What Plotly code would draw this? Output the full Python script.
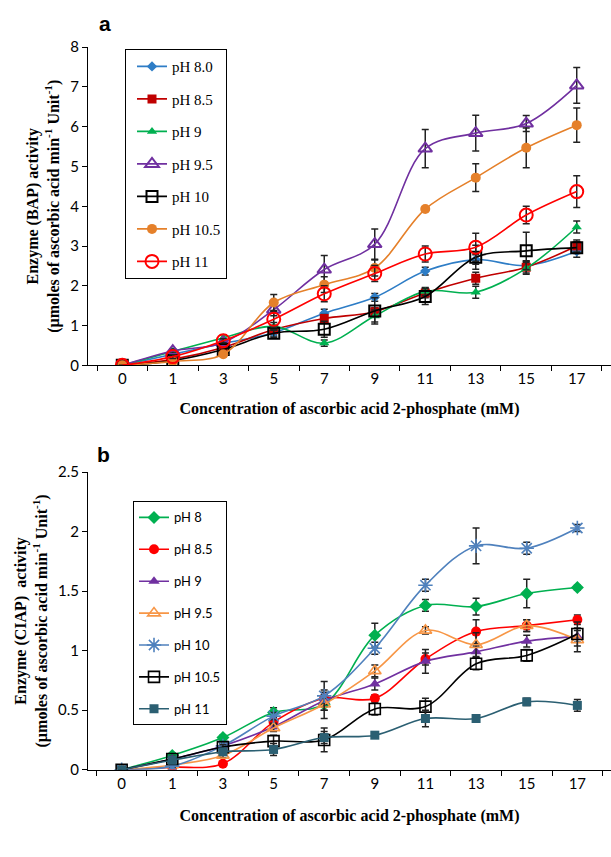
import plotly.graph_objects as go

# ---------------- data ----------------
conc = ["0", "1", "3", "5", "7", "9", "11", "13", "15", "17"]

# Panel a: BAP
a_names = ["pH 8.0", "pH 8.5", "pH 9", "pH 9.5", "pH 10", "pH 10.5", "pH 11"]
a_ph80 = [0, 0.28, 0.55, 0.82, 1.31, 1.71, 2.37, 2.66, 2.51, 2.87]
a_ph85 = [0, 0.15, 0.45, 0.90, 1.18, 1.35, 1.82, 2.19, 2.47, 3.00]
a_ph90 = [0, 0.35, 0.69, 0.98, 0.56, 1.24, 1.86, 1.84, 2.44, 3.48]
a_ph95 = [0, 0.36, 0.57, 1.40, 2.41, 3.05, 5.45, 5.84, 6.08, 7.04]
a_ph100 = [0, 0.12, 0.40, 0.81, 0.91, 1.37, 1.73, 2.72, 2.88, 2.96]
a_ph105 = [0, 0.10, 0.28, 1.58, 2.03, 2.45, 3.93, 4.72, 5.47, 6.04]
a_ph110 = [0, 0.22, 0.62, 1.16, 1.80, 2.31, 2.80, 2.97, 3.78, 4.37]

a_err80 = [0, 0.03, 0.05, 0.08, 0.10, 0.10, 0.10, 0.12, 0.12, 0.15]
a_err85 = [0, 0.05, 0.05, 0.10, 0.10, 0.10, 0.12, 0.15, 0.15, 0.15]
a_err90 = [0, 0.05, 0.08, 0.10, 0.08, 0.15, 0.10, 0.15, 0.15, 0.15]
a_err95 = [0, 0.05, 0.05, 0.15, 0.35, 0.38, 0.48, 0.45, 0.20, 0.45]
a_err100 = [0, 0.05, 0.05, 0.10, 0.20, 0.33, 0.20, 0.30, 0.47, 0.15]
a_err105 = [0, 0.03, 0.05, 0.20, 0.20, 0.20, 0.05, 0.35, 0.50, 0.43]
a_err110 = [0, 0.05, 0.05, 0.20, 0.20, 0.20, 0.20, 0.35, 0.22, 0.40]

# Panel b: CIAP
b_names = ["pH 8", "pH 8.5", "pH 9", "pH 9.5", "pH 10", "pH 10.5", "pH 11"]
b_ph80 = [0, 0.12, 0.27, 0.48, 0.55, 1.13, 1.38, 1.37, 1.48, 1.53]
b_ph85 = [0, 0.02, 0.05, 0.40, 0.60, 0.60, 0.93, 1.16, 1.21, 1.26]
b_ph90 = [0, 0.09, 0.20, 0.36, 0.58, 0.72, 0.91, 0.99, 1.08, 1.12]
b_ph95 = [0, 0.04, 0.12, 0.35, 0.55, 0.83, 1.17, 1.05, 1.21, 1.09]
b_ph100 = [0, 0.03, 0.20, 0.45, 0.62, 1.02, 1.55, 1.88, 1.86, 2.03]
b_ph105 = [0, 0.09, 0.19, 0.24, 0.25, 0.51, 0.53, 0.89, 0.96, 1.14]
b_ph110 = [0, 0.08, 0.15, 0.17, 0.27, 0.29, 0.43, 0.43, 0.57, 0.54]

b_err80 = [0, 0.02, 0.02, 0.04, 0.12, 0.10, 0.05, 0.07, 0.12, 0.02]
b_err85 = [0, 0.01, 0.01, 0.03, 0.05, 0.03, 0.05, 0.10, 0.05, 0.04]
b_err90 = [0, 0.02, 0.02, 0.03, 0.05, 0.05, 0.10, 0.05, 0.05, 0.05]
b_err95 = [0, 0.01, 0.02, 0.03, 0.05, 0.05, 0.03, 0.10, 0.05, 0.10]
b_err100 = [0, 0.01, 0.02, 0.03, 0.12, 0.05, 0.05, 0.15, 0.05, 0.03]
b_err105 = [0, 0.02, 0.02, 0.05, 0.10, 0.05, 0.07, 0.05, 0.05, 0.10]
b_err110 = [0, 0.02, 0.02, 0.05, 0.05, 0.02, 0.07, 0.02, 0.03, 0.05]

# ---------------- styles ----------------
a_series = [a_ph80, a_ph85, a_ph90, a_ph95, a_ph100, a_ph105, a_ph110]
a_errs = [a_err80, a_err85, a_err90, a_err95, a_err100, a_err105, a_err110]
a_line = ["#2E7DC6", "#C00000", "#00B050", "#7030A0", "#000000", "#E5802A", "#FF0000"]
a_sym = ["diamond", "square", "triangle-up", "triangle-up-open", "square-open", "circle", "circle-open"]
a_size = [8, 9, 9, 12, 11, 10, 13]

b_series = [b_ph80, b_ph85, b_ph90, b_ph95, b_ph100, b_ph105, b_ph110]
b_errs = [b_err80, b_err85, b_err90, b_err95, b_err100, b_err105, b_err110]
b_line = ["#00B050", "#FF0000", "#7030A0", "#F79646", "#4F81BD", "#000000", "#2B5F72"]
b_sym = ["diamond", "circle", "triangle-up", "triangle-up-open", "asterisk-open", "square-open", "square"]
b_size = [10, 10, 10, 11, 12, 11, 9]

fig = go.Figure()

for i, (name, ys, es) in enumerate(zip(a_names, a_series, a_errs)):
    fig.add_trace(go.Scatter(
        x=conc, y=ys, name=name, mode="lines+markers",
        line=dict(color=a_line[i], width=1.6, shape="spline", smoothing=1.0),
        marker=dict(symbol=a_sym[i], size=a_size[i], color=a_line[i],
                    line=dict(color=a_line[i], width=2 if "open" in a_sym[i] else 0)),
        error_y=dict(type="data", array=es, visible=True, color="#222222", thickness=1.5, width=3.5),
        xaxis="x", yaxis="y", legend="legend", legendgroup="a" + str(i),
    ))

for i, (name, ys, es) in enumerate(zip(b_names, b_series, b_errs)):
    fig.add_trace(go.Scatter(
        x=conc, y=ys, name=name, mode="lines+markers",
        line=dict(color=b_line[i], width=1.6, shape="spline", smoothing=1.0),
        marker=dict(symbol=b_sym[i], size=b_size[i], color=b_line[i],
                    line=dict(color=b_line[i], width=1.6 if "open" in b_sym[i] else 0)),
        error_y=dict(type="data", array=es, visible=True, color="#222222", thickness=1.5, width=3.5),
        xaxis="x2", yaxis="y2", legend="legend2", legendgroup="b" + str(i),
    ))

H = 857.0
def py(px):
    return (H - px) / H

tickfont = dict(family="Lato, Open Sans, sans-serif", size=15, color="#000")
titlefont = dict(family="Liberation Serif, Times New Roman, serif", size=16, color="#000")

axis_common = dict(showline=True, linecolor="#000", linewidth=1, showgrid=False,
                   zeroline=False, ticks="outside", ticklen=5, tickcolor="#000",
                   tickfont=tickfont)

fig.update_layout(
    width=611, height=857,
    margin=dict(l=88, r=0, t=0, b=0),
    plot_bgcolor="white", paper_bgcolor="white",
    xaxis=dict(domain=[0, 1], anchor="y", type="category", tickson="boundaries",
               title=dict(text="<b>Concentration of ascorbic acid 2-phosphate (mM)</b>",
                          font=titlefont, standoff=16), **axis_common),
    yaxis=dict(domain=[py(363), py(38)], anchor="x", range=[0, 8], dtick=1,
               title=dict(text="<b>Enzyme (BAP) activity<br>(µmoles of ascorbic acid min<sup>-1</sup> Unit<sup>-1</sup>)</b>",
                          font=titlefont, standoff=6), **axis_common),
    xaxis2=dict(domain=[0, 1], anchor="y2", type="category", tickson="boundaries",
                title=dict(text="<b>Concentration of ascorbic acid 2-phosphate (mM)</b>",
                           font=titlefont, standoff=19), **axis_common),
    yaxis2=dict(domain=[py(776), py(472)], anchor="x2", range=[0, 2.5], dtick=0.5,
                title=dict(text="<b>Enzyme (CIAP)  activity<br>(µmoles of ascorbic acid min<sup>-1</sup> Unit<sup>-1</sup>)</b>",
                           font=titlefont, standoff=6), **axis_common),
    legend=dict(x=(125 - 88) / 523.0, y=py(40), xanchor="left", yanchor="top",
                bordercolor="#000", borderwidth=1, bgcolor="white", indentation=6,
                font=dict(family="Liberation Serif, Times New Roman, serif", size=15, color="#000"),
                traceorder="grouped", tracegroupgap=10, itemwidth=30),
    legend2=dict(x=(133 - 88) / 523.0, y=py(502), xanchor="left", yanchor="top",
                 bordercolor="#000", borderwidth=1, bgcolor="white",
                 font=dict(family="Lato, Open Sans, sans-serif", size=13, color="#000"),
                 traceorder="grouped", tracegroupgap=12, itemwidth=30),
    annotations=[
        dict(text="<b>a</b>", x=(105 - 88) / 523.0, y=1.0, xref="paper", yref="paper",
             xanchor="center", yanchor="top",
             showarrow=False, font=dict(family="Liberation Sans, Arial, sans-serif", size=21, color="#000")),
        dict(text="<b>b</b>", x=(103 - 88) / 523.0, y=py(440), xref="paper", yref="paper",
             xanchor="center", yanchor="top",
             showarrow=False, font=dict(family="Liberation Sans, Arial, sans-serif", size=21, color="#000")),
    ],
)

fig.write_html(
    "out.html",
    config={"displayModeBar": False},
    post_script=("document.body.style.margin='0';document.body.style.padding='0';"),
)
